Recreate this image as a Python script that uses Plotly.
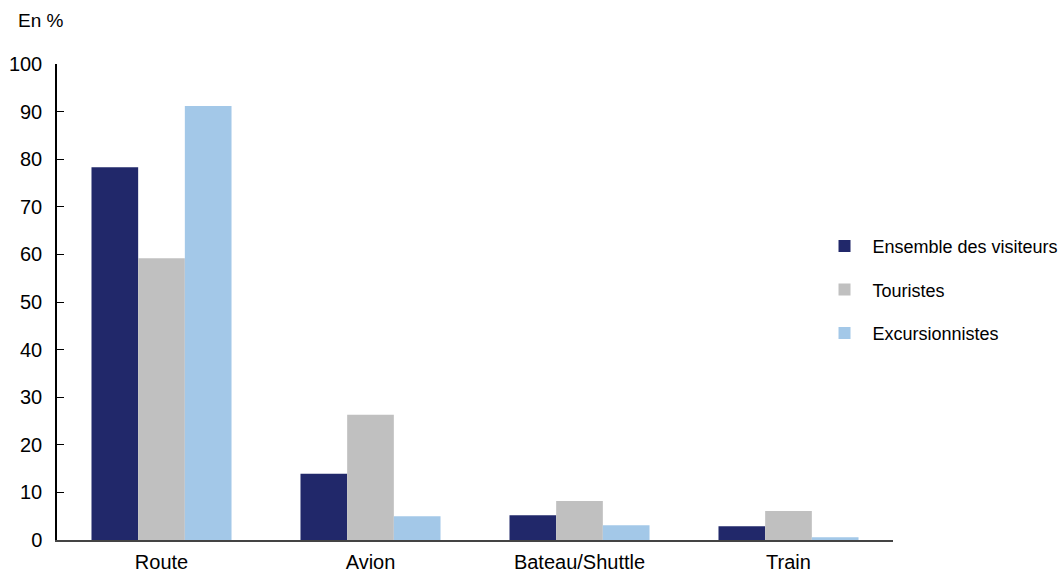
import plotly.graph_objects as go

categories = ["Route", "Avion", "Bateau/Shuttle", "Train"]
ensemble = [78.3, 13.9, 5.2, 2.9]
touristes = [59.2, 26.3, 8.2, 6.1]
excursionnistes = [91.2, 5.0, 3.1, 0.6]
series_names = ["Ensemble des visiteurs", "Touristes", "Excursionnistes"]
colors = ["#21286A", "#C0C0C0", "#A3C8E8"]
y_ticks = [0, 10, 20, 30, 40, 50, 60, 70, 80, 90, 100]

FONT = "Liberation Sans, Arial, sans-serif"

fig = go.Figure()
for name, vals, col in zip(series_names, [ensemble, touristes, excursionnistes], colors):
    fig.add_trace(go.Bar(x=categories, y=vals, name=name, legendgroup=name,
                         marker=dict(color=col, line=dict(width=0))))

fig.update_layout(
    width=1060, height=574,
    margin=dict(l=57, r=167, t=64, b=34, autoexpand=False),
    paper_bgcolor="white", plot_bgcolor="white",
    barmode="group", bargap=0.33, bargroupgap=0,
    font=dict(family=FONT, size=18, color="#000000"),
    showlegend=True,
    legend=dict(x=0.7703, y=0.603, xref="container", yref="container",
                xanchor="left", yanchor="top", itemwidth=46,
                font=dict(family=FONT, size=18), tracegroupgap=17,
                traceorder="grouped", bgcolor="rgba(0,0,0,0)"),
    xaxis=dict(showline=True, linecolor="#444444", linewidth=1.5, ticks="",
               showgrid=False, tickfont=dict(size=20), ticklabelstandoff=3,
               automargin=False),
    yaxis=dict(range=[0, 100], tickvals=y_ticks, showline=True, linecolor="#000000",
               linewidth=1.5, ticks="inside", ticklen=7, tickcolor="#000000",
               showgrid=False, zeroline=False, tickfont=dict(size=20),
               ticklabelstandoff=9, automargin=False),
    annotations=[dict(text="En %", x=0, xref="paper", xanchor="left", xshift=-41,
                      y=1, yref="paper", yanchor="middle", yshift=44,
                      showarrow=False, font=dict(family=FONT, size=19))],
)

fig.write_html(
    "out.html",
    config={"displayModeBar": False},
    post_script=("document.body.style.margin='0';"
                 "document.body.style.overflow='hidden';"
                 "document.documentElement.style.overflow='hidden';"),
)
